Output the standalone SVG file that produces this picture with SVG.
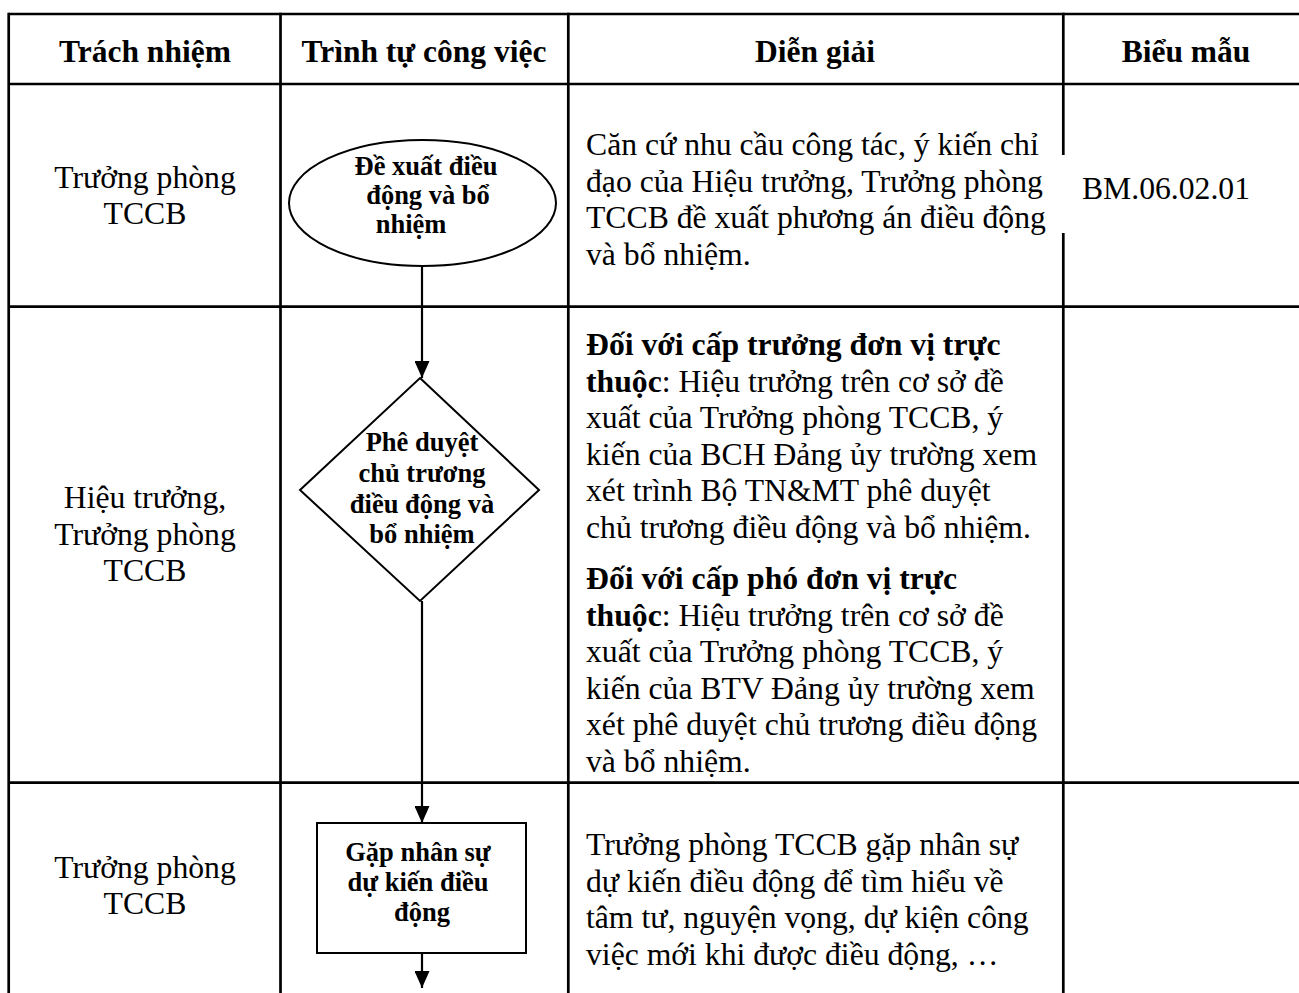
<svg xmlns="http://www.w3.org/2000/svg" width="1299" height="993" viewBox="0 0 1299 993">
  <defs>
    <marker id="arrow" markerWidth="17" markerHeight="15" refX="17" refY="7.5" orient="auto" markerUnits="userSpaceOnUse" viewBox="0 0 17 15">
      <path d="M0,0 L17,7.5 L0,15 Z" fill="#000"/>
    </marker>
  </defs>
  <style>
    .grid { stroke: #000; stroke-width: 2.7; fill: none; }
    .shape { stroke: #000; stroke-width: 2; fill: #fff; }
    .conn { stroke: #000; stroke-width: 2.2; fill: none; }
    .hdr { font-family: "Liberation Serif", "Times New Roman", serif; font-size: 31.5px; font-weight: bold; text-anchor: middle; fill: #000; }
    .body { font-family: "Liberation Serif", "Times New Roman", serif; font-size: 31.7px; fill: #000; }
    .ctr { text-anchor: middle; }
    .node { font-family: "Liberation Serif", "Times New Roman", serif; font-size: 26.5px; font-weight: bold; text-anchor: middle; fill: #000; }
    .b { font-weight: bold; }
  </style>

  <rect x="0" y="0" width="1299" height="993" fill="#fff"/>

  <!-- table grid -->
  <g id="table">
    <line class="grid" x1="8.7" y1="14" x2="1299" y2="14"/>
    <line class="grid" x1="8.7" y1="84" x2="1299" y2="84"/>
    <line class="grid" x1="8.7" y1="306.7" x2="1299" y2="306.7"/>
    <line class="grid" x1="8.7" y1="782.7" x2="1299" y2="782.7"/>
    <line class="grid" x1="8.7" y1="12.7" x2="8.7" y2="993"/>
    <line class="grid" x1="280.5" y1="12.7" x2="280.5" y2="993"/>
    <line class="grid" x1="568.3" y1="12.7" x2="568.3" y2="993"/>
    <line class="grid" x1="1063.3" y1="12.7" x2="1063.3" y2="993"/>
  </g>

  <!-- column headers -->
  <g id="headers">
    <text class="hdr" x="145" y="61.5">Trách nhiệm</text>
    <text class="hdr" x="424" y="61.5">Trình tự công việc</text>
    <text class="hdr" x="815" y="61.5">Diễn giải</text>
    <text class="hdr" x="1186" y="61.5">Biểu mẫu</text>
  </g>

  <!-- responsibility column -->
  <g id="responsibility">
    <text class="body ctr" x="145" y="188">Trưởng phòng</text>
    <text class="body ctr" x="145" y="224">TCCB</text>
    <text class="body ctr" x="145" y="508">Hiệu trưởng,</text>
    <text class="body ctr" x="145" y="545">Trưởng phòng</text>
    <text class="body ctr" x="145" y="581">TCCB</text>
    <text class="body ctr" x="145" y="878">Trưởng phòng</text>
    <text class="body ctr" x="145" y="914">TCCB</text>
  </g>

  <!-- connectors -->
  <g id="connectors">
    <line class="conn" x1="422" y1="266" x2="422" y2="378" marker-end="url(#arrow)"/>
    <line class="conn" x1="422" y1="601" x2="422" y2="823" marker-end="url(#arrow)"/>
    <line class="conn" x1="422" y1="953" x2="422" y2="988" marker-end="url(#arrow)"/>
  </g>

  <!-- step 1: proposal -->
  <g id="node-propose">
    <ellipse class="shape" cx="422.5" cy="203" rx="133.5" ry="63"/>
    <text class="node" x="426" y="175">Đề xuất điều</text>
    <text class="node" x="428" y="204">động và bổ</text>
    <text class="node" x="411" y="233">nhiệm</text>
  </g>

  <!-- step 2: approval -->
  <g id="node-approve">
    <polygon class="shape" points="420,378 539,490 420,601 300,490"/>
    <text class="node" x="422" y="451">Phê duyệt</text>
    <text class="node" x="422" y="482">chủ trương</text>
    <text class="node" x="422" y="512.5">điều động và</text>
    <text class="node" x="422" y="543">bổ nhiệm</text>
  </g>

  <!-- step 3: meeting -->
  <g id="node-meet">
    <rect class="shape" x="317" y="823" width="209" height="130"/>
    <text class="node" x="418" y="861">Gặp nhân sự</text>
    <text class="node" x="418" y="891">dự kiến điều</text>
    <text class="node" x="422" y="921">động</text>
  </g>

  <!-- description column -->
  <g id="desc-1">
    <text class="body" x="586" y="155">Căn cứ nhu cầu công tác, ý kiến chỉ</text>
    <text class="body" x="586" y="191.5">đạo của Hiệu trưởng, Trưởng phòng</text>
    <text class="body" x="586" y="228">TCCB đề xuất phương án điều động</text>
    <text class="body" x="586" y="264.5">và bổ nhiệm.</text>
  </g>
  <g id="desc-2">
    <text class="body b" x="586" y="355">Đối với cấp trưởng đơn vị trực</text>
    <text class="body" x="586" y="391.5"><tspan class="b">thuộc</tspan>: Hiệu trưởng trên cơ sở đề</text>
    <text class="body" x="586" y="428">xuất của Trưởng phòng TCCB, ý</text>
    <text class="body" x="586" y="464.5">kiến của BCH Đảng ủy trường xem</text>
    <text class="body" x="586" y="501">xét trình Bộ TN&amp;MT phê duyệt</text>
    <text class="body" x="586" y="537.5">chủ trương điều động và bổ nhiệm.</text>
    <text class="body b" x="586" y="589">Đối với cấp phó đơn vị trực</text>
    <text class="body" x="586" y="625.5"><tspan class="b">thuộc</tspan>: Hiệu trưởng trên cơ sở đề</text>
    <text class="body" x="586" y="662">xuất của Trưởng phòng TCCB, ý</text>
    <text class="body" x="586" y="698.5">kiến của BTV Đảng ủy trường xem</text>
    <text class="body" x="586" y="735">xét phê duyệt chủ trương điều động</text>
    <text class="body" x="586" y="771.5">và bổ nhiệm.</text>
  </g>
  <g id="desc-3">
    <text class="body" x="586" y="855">Trưởng phòng TCCB gặp nhân sự</text>
    <text class="body" x="586" y="891.5">dự kiến điều động để tìm hiểu về</text>
    <text class="body" x="586" y="928">tâm tư, nguyện vọng, dự kiện công</text>
    <text class="body" x="586" y="964.5">việc mới khi được điều động, …</text>
  </g>

  <!-- form code, on a white label box over the column rule -->
  <g id="form-code">
    <rect x="1056" y="155" width="224" height="78" fill="#fff"/>
    <text class="body ctr" x="1166" y="199">BM.06.02.01</text>
  </g>
</svg>
